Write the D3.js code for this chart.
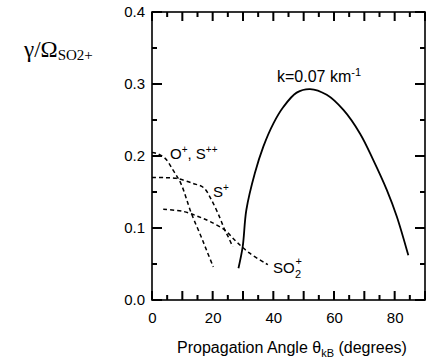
<!DOCTYPE html>
<html><head><meta charset="utf-8">
<script src="https://cdn.jsdelivr.net/npm/d3@7"></script>
<style>body{margin:0;background:#fff}svg{display:block}</style>
</head><body>
<svg id="c" width="426" height="363"></svg>
<script>
const xTicks = [0, 20, 40, 60, 80];
const yTicks = [0.0, 0.1, 0.2, 0.3, 0.4];
const growthK007 = [[28.5,0.044],[29.9,0.074],[31.1,0.125],[33.9,0.176],[36.7,0.213],[40,0.245],[43.3,0.268],[47.7,0.288],[52.1,0.293],[57.6,0.285],[63.1,0.264],[68.6,0.231],[73,0.194],[77.4,0.153],[80.7,0.116],[84.5,0.062]];
const oPlusSpp = [[0,0.205],[2,0.203],[4.5,0.196],[7,0.18],[9.5,0.162],[13,0.12],[16,0.09],[18,0.069],[20.2,0.046]];
const sPlus = [[0,0.170],[4,0.170],[8,0.169],[13.5,0.162],[17,0.156],[19.6,0.139],[22.4,0.114],[24,0.097],[25.1,0.088],[26.6,0.074]];
const so2Plus = [[3.7,0.126],[10.3,0.123],[15.2,0.116],[19.1,0.109],[24,0.097],[27.8,0.081],[32.2,0.065],[38.2,0.049]];

const svg = d3.select("#c");
const L=152, R=425, T=12, B=300;
const x = d3.scaleLinear().domain([0,90]).range([L,R]);
const y = d3.scaleLinear().domain([0,0.4]).range([B,T]);
const font = "Liberation Sans, Arial, Helvetica, sans-serif";
const FS = 15;

const xMajorV = d3.range(0,91,10), xMinorV = d3.range(5,90,10);
const yMajorV = d3.range(0,0.401,0.1), yMinorV = [0.05,0.15,0.25,0.35];

// frame
svg.append("rect").attr("x",L).attr("y",T).attr("width",R-L).attr("height",B-T)
  .attr("fill","none").attr("stroke","#000").attr("stroke-width",1.6);

// ticks (drawn after frame)
const tk = svg.append("g").attr("fill","#000");
function vt(v,len){
  tk.append("rect").attr("x",x(v)-1).attr("y",B-len).attr("width",2).attr("height",len);
  tk.append("rect").attr("x",x(v)-1).attr("y",T).attr("width",2).attr("height",len);
}
function ht(v,len){
  tk.append("rect").attr("x",L).attr("y",y(v)-1).attr("width",len).attr("height",2);
  tk.append("rect").attr("x",R-len).attr("y",y(v)-1).attr("width",len).attr("height",2);
}
xMajorV.forEach(v=>vt(v,9)); xMinorV.forEach(v=>vt(v,5));
yMajorV.forEach(v=>ht(v,10)); yMinorV.forEach(v=>ht(v,5));

// axis labels via d3 axes
const xa = svg.append("g").attr("transform",`translate(0,${B})`)
  .call(d3.axisBottom(x).tickValues(xTicks).tickSize(0).tickPadding(12));
const ya = svg.append("g").attr("transform",`translate(${L},0)`)
  .call(d3.axisLeft(y).tickValues(yTicks).tickSize(0).tickPadding(7).tickFormat(d3.format(".1f")));
[xa,ya].forEach(g=>{
  g.select(".domain").remove();
  g.selectAll("text").attr("font-family",font).attr("font-size",FS).attr("fill","#000");
});

// curves
const line = d3.line().x(d=>x(d[0])).y(d=>y(d[1])).curve(d3.curveCatmullRom);
svg.append("path").attr("d",line(growthK007)).attr("fill","none").attr("stroke","#000").attr("stroke-width",1.8);
[oPlusSpp,sPlus,so2Plus].forEach(s=>{
  svg.append("path").attr("d",line(s)).attr("fill","none").attr("stroke","#000")
    .attr("stroke-width",1.5).attr("stroke-dasharray","4,3");
});

// O+, S++
const t1 = svg.append("text").attr("x",170).attr("y",159).attr("font-family",font).attr("font-size",FS);
t1.append("tspan").text("O");
t1.append("tspan").attr("font-size",10).attr("dy",-6).text("+");
t1.append("tspan").attr("dy",6).text(", S");
t1.append("tspan").attr("font-size",10).attr("dy",-6).text("++");
// S+
const t2 = svg.append("text").attr("x",213).attr("y",197).attr("font-family",font).attr("font-size",FS);
t2.append("tspan").text("S");
t2.append("tspan").attr("font-size",10).attr("dy",-6).text("+");
// SO2+
svg.append("text").attr("x",273).attr("y",273).attr("font-family",font).attr("font-size",FS).text("SO");
const sx = 273 + 22;
svg.append("text").attr("x",sx).attr("y",278).attr("font-family",font).attr("font-size",11).text("2");
svg.append("text").attr("x",sx+0.5).attr("y",265).attr("font-family",font).attr("font-size",11).text("+");
// k label
const t4 = svg.append("text").attr("x",277).attr("y",82).attr("font-family",font).attr("font-size",16);
t4.append("tspan").text("k=0.07 km");
t4.append("tspan").attr("font-size",11).attr("dy",-6).text("-1");

// y title
const yt1 = svg.append("text").attr("x",24).attr("y",57).attr("font-family","Liberation Serif, Times New Roman, serif").attr("font-size",23);
yt1.append("tspan").text("γ/Ω");
yt1.append("tspan").attr("font-size",15).attr("dy",3).text("SO2+");

// x title
const xt1 = svg.append("text").attr("x",292).attr("y",353).attr("text-anchor","middle").attr("font-family",font).attr("font-size",16);
xt1.append("tspan").text("Propagation Angle θ");
xt1.append("tspan").attr("font-size",11).attr("dy",4).text("kB");
xt1.append("tspan").attr("dy",-4).text(" (degrees)");
</script>
</body></html>
